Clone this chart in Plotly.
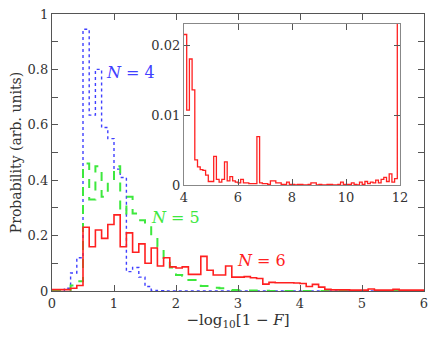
import numpy as np
import plotly.graph_objects as go

# bin edges of the main histograms (width 0.1, from 0 to 6)
BIN_W = 0.1
x_edges = np.round(np.arange(0, 6.0 + BIN_W / 2, BIN_W), 2)

p_n4 = [
    0.0, 0.0, 0.01, 0.065, 0.12, 0.945, 0.635, 0.80, 0.59, 0.55,
    0.44, 0.41, 0.07, 0.085, 0.05, 0.016, 0.002, 0.001, 0.0, 0.0,
] + [0.0] * 40

p_n5 = [
    0.0, 0.0, 0.0, 0.02, 0.035, 0.46, 0.33, 0.45, 0.34, 0.40,
    0.45, 0.28, 0.34, 0.28, 0.255, 0.23, 0.20, 0.16, 0.11, 0.085,
    0.058, 0.055, 0.04, 0.04, 0.018, 0.018, 0.012, 0.01, 0.006, 0.004,
    0.003, 0.002, 0.002, 0.001, 0.001,
] + [0.0] * 25

p_n6 = [
    0.005, 0.005, 0.005, 0.01, 0.02, 0.23, 0.16, 0.22, 0.19, 0.24,
    0.275, 0.16, 0.21, 0.14, 0.17, 0.10, 0.155, 0.09, 0.12, 0.087,
    0.083, 0.087, 0.06, 0.06, 0.125, 0.075, 0.058, 0.058, 0.09, 0.05,
    0.05, 0.052, 0.048, 0.045, 0.025, 0.031, 0.03, 0.03, 0.03, 0.029,
    0.027, 0.016, 0.024, 0.014, 0.006, 0.004, 0.004, 0.004, 0.003, 0.003,
    0.003, 0.007, 0.003, 0.003, 0.003, 0.006, 0.003, 0.003, 0.003, 0.003,
]

# inset: N=6 tail, bins of 0.1 from 4 to 12
inset_edges = np.round(np.arange(4.0, 12.0 + BIN_W / 2, BIN_W), 2)
p_tail = [
    0.0215, 0.0107, 0.018, 0.0136, 0.0036, 0.0026, 0.0022, 0.0021, 0.0014, 0.0005,
    0.0005, 0.0041, 0.0008, 0.0004, 0.0008, 0.0033, 0.0006, 0.0012, 0.0006, 0.0004,
    0.0003, 0.0008, 0.0003, 0.0003, 0.0002, 0.0002, 0.0002, 0.0069, 0.0003, 0.0002,
    0.0002, 0.0001, 0.0006, 0.0006, 0.0003, 0.0003, 0.0001, 0.0001, 0.0004, 0.0001,
    0.0001, 0.0, 0.0001, 0.0001, 0.0, 0.0, 0.0001, 0.0003, 0.0003, 0.0,
    0.0001, 0.0, 0.0, 0.0001, 0.0001, 0.0, 0.0, 0.0001, 0.0004, 0.0001,
    0.0001, 0.0001, 0.0003, 0.0001, 0.0, 0.0004, 0.0001, 0.0005, 0.0002, 0.0004,
    0.0003, 0.0007, 0.0003, 0.0008, 0.0011, 0.0005, 0.0016, 0.0004, 0.0009, 0.0235,
]

FONT = "DejaVu Serif"
BLUE = "#4040ff"
GREEN = "#3ee83e"
RED = "#ff2020"
AXIS = "#555555"


def step(edges, vals):
    # hv step line: one point per left edge plus the closing right edge
    return list(edges), list(vals) + [vals[-1]]


fig = go.Figure()

for vals, color, dash, width in [
    (p_n4, BLUE, "dot", 1.4),
    (p_n5, GREEN, "dash", 2.0),
    (p_n6, RED, "solid", 1.6),
]:
    xs, ys = step(x_edges, vals)
    fig.add_trace(go.Scatter(
        x=xs, y=ys, mode="lines", line_shape="hv",
        line=dict(color=color, dash=dash, width=width),
        xaxis="x", yaxis="y", showlegend=False, hoverinfo="skip",
    ))

xs, ys = step(inset_edges, p_tail)
fig.add_trace(go.Scatter(
    x=xs, y=ys, mode="lines", line_shape="hv",
    line=dict(color=RED, width=1.3),
    xaxis="x2", yaxis="y2", showlegend=False, hoverinfo="skip",
))

labels = [(130, 0.79, "<i>N</i> = 4", BLUE), (175, 0.265, "<i>N</i> = 5", GREEN),
          (261, 0.11, "<i>N</i> = 6", RED)]
for px, yv, txt, col in labels:
    fig.add_annotation(
        x=(px - 52) / 62, y=yv, xref="x", yref="y", text=txt, showarrow=False,
        font=dict(family=FONT, size=16, color=col),
    )

tick_font = dict(family=FONT, size=13, color="#333333")
common = dict(
    ticks="inside", ticklen=6, tickcolor=AXIS, showline=True, linewidth=1.2,
    mirror="ticks", showgrid=False, zeroline=False, tickfont=tick_font,
    automargin=False,
)
fig.update_layout(
    width=436, height=337,
    margin=dict(l=52, r=12, t=14, b=46),
    paper_bgcolor="white", plot_bgcolor="white",
    font=dict(family=FONT, color="#333333"),
    xaxis=dict(
        domain=[0, 1], range=[0, 6], tickvals=[0, 1, 2, 3, 4, 5, 6],
        linecolor=AXIS,
        title=dict(text="\u2212log<sub>10</sub>[1 \u2212 <i>F</i>]",
                   font=dict(family=FONT, size=15), standoff=0),
        **common,
    ),
    yaxis=dict(
        domain=[0, 1], range=[0, 1], tickvals=[0, 0.2, 0.4, 0.6, 0.8, 1],
        ticktext=["0", "0.2", "0.4", "0.6", "0.8", "1"], linecolor=AXIS,
        minor=dict(ticks="inside", ticklen=6, dtick=0.1, tickcolor=AXIS, showgrid=False),
        title=dict(text="Probability (arb. units)", font=dict(family=FONT, size=14),
                   standoff=2),
        **common,
    ),
    xaxis2=dict(
        domain=[(184 - 52) / 372, (400 - 52) / 372], anchor="y2",
        range=[4, 12], tickvals=[4, 6, 8, 10, 12], linecolor="#888888",
        **common,
    ),
    yaxis2=dict(
        domain=[(291 - 185) / 277, (291 - 24) / 277], anchor="x2",
        range=[0, 0.023], tickvals=[0, 0.01, 0.02], ticktext=["0", "0.01", "0.02"],
        linecolor="#888888",
        **common,
    ),
)

# the page's default body margin would shift the fixed-size figure
fig.write_html(
    "out.html",
    config={"displayModeBar": False, "staticPlot": True},
    post_script="document.body.style.margin = '0';",
)
